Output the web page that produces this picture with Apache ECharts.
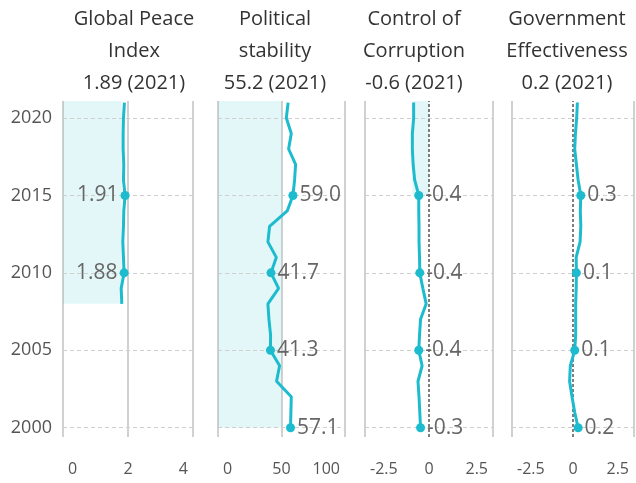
<!DOCTYPE html>
<html><head><meta charset="utf-8">
<script src="https://cdn.jsdelivr.net/npm/echarts@6/dist/echarts.min.js"></script>
<style>html,body{margin:0;padding:0;background:#fff}#c{width:636px;height:483px}</style>
</head><body><div id="c"></div>
<script>
// ---- data ----
const years = [2000,2001,2002,2003,2004,2005,2006,2007,2008,2009,2010,2011,2012,2013,2014,2015,2016,2017,2018,2019,2020,2021];
const gpiYears = [2008,2009,2010,2011,2012,2013,2014,2015,2016,2017,2018,2019,2020,2021];
const gpiValues = [1.81,1.79,1.88,1.86,1.84,1.86,1.87,1.91,1.86,1.87,1.85,1.85,1.86,1.89];
const stabilityValues = [57.1,57.4,57.7,46.1,48.5,41.3,41.4,40.1,39.3,47.7,41.7,45.9,39.3,40.6,54.5,59.0,60.3,61.1,55.6,57.7,53.8,55.2];
const corruptionValues = [-0.33,-0.36,-0.39,-0.43,-0.27,-0.40,-0.37,-0.33,-0.11,-0.24,-0.36,-0.37,-0.39,-0.39,-0.40,-0.40,-0.56,-0.62,-0.65,-0.65,-0.60,-0.60];
const effectivenessValues = [0.21,0.07,-0.04,-0.14,-0.11,0.07,0.11,0.11,0.11,0.13,0.14,0.13,0.29,0.32,0.30,0.32,0.21,0.14,0.07,0.10,0.15,0.18];
const titleNames = ['Global Peace\nIndex','Political\nstability','Control of\nCorruption','Government\nEffectiveness'];
const yearTicks = [2000,2005,2010,2015,2020];
const labelYears = [2000,2005,2010,2015];
const xRanges = [[0,4,2],[0,100,50],[-2.5,2.5,2.5],[-2.5,2.5,2.5]];
const decimals = [2,1,1,1];
// shaded bands: [xFrom, xTo, yearFrom, yearTo]
const bands = [[0,1.80,2008,2021.1],[0,50,2000,2021.1],[-0.65,0,2015,2021.1],null];
const zeroLine = [false,false,true,true];

// ---- layout ----
const grids = [
  {left:63, width:130},
  {left:218, width:127},
  {left:365, width:128},
  {left:512, width:122}
];
const titleX = [134, 275, 414, 567];
const FONT = '"Open Sans", sans-serif';
const LINE = '#1CBCCE';
const Y_MIN = 1999.4, Y_MAX = 2021.1;

const seriesDefs = [
  {years: gpiYears, values: gpiValues, labelPos: 'left'},
  {years: years, values: stabilityValues, labelPos: 'right'},
  {years: years, values: corruptionValues, labelPos: 'right'},
  {years: years, values: effectivenessValues, labelPos: 'right'}
];

const option = {
  animation: false,
  backgroundColor: '#fff',
  grid: grids.map(g => ({left: g.left, width: g.width, top: 101, height: 336})),
  xAxis: grids.map((g, i) => ({
    type: 'value', gridIndex: i,
    min: xRanges[i][0], max: xRanges[i][1], interval: xRanges[i][2],
    axisLine: {show: false}, axisTick: {show: false},
    axisLabel: {
      color: '#555', fontSize: 16, fontFamily: FONT, margin: 24,
      alignMinLabel: 'left', alignMaxLabel: 'right', padding: [0,5,0,5]
    },
    splitLine: {show: true, lineStyle: {
      color: zeroLine[i] ? ['#c2c2c2','rgba(0,0,0,0)'] : '#c2c2c2', width: 1.5}}
  })),
  yAxis: grids.map((g, i) => ({
    type: 'value', gridIndex: i, min: Y_MIN, max: Y_MAX,
    axisLine: {show: false}, axisTick: {show: false},
    splitLine: {show: false},
    axisLabel: {
      show: i === 0, customValues: yearTicks, color: '#555',
      formatter: v => String(Math.round(v)),
      fontSize: 18, fontFamily: FONT, margin: 11
    }
  })),
  graphic: titleNames.map((t, i) => {
    const d = seriesDefs[i];
    const last = d.values[d.values.length - 1];
    const lastYear = d.years[d.years.length - 1];
    return {
      type: 'text', x: titleX[i], y: 3,
      style: {
        text: t + '\n' + last.toFixed(decimals[i] === 2 ? 2 : 1) + ' (' + lastYear + ')',
        align: 'center', verticalAlign: 'top',
        fontSize: 20, lineHeight: 32, fontFamily: FONT, fill: '#333'
      }
    };
  }),
  series: []
};

seriesDefs.forEach((d, i) => {
  const mlData = yearTicks.map(y => ({yAxis: y}));
  if (zeroLine[i]) {
    mlData.push({xAxis: 0, lineStyle: {color: '#555', type: [3,2], width: 1.5}});
  }
  const helper = {
    type: 'line', xAxisIndex: i, yAxisIndex: i, data: [], z: 1, silent: true,
    markLine: {
      silent: true, symbol: 'none', z: 1, animation: false,
      label: {show: false},
      lineStyle: {color: '#cfcfcf', type: [4,3], width: 1.2},
      data: mlData
    }
  };
  if (bands[i]) {
    const b = bands[i];
    helper.markArea = {
      silent: true, z: 0,
      itemStyle: {color: 'rgba(28,188,206,0.12)'},
      data: [[{xAxis: b[0], yAxis: b[2]}, {xAxis: b[1], yAxis: b[3]}]]
    };
  }
  option.series.push(helper);

  option.series.push({
    type: 'line', xAxisIndex: i, yAxisIndex: i, z: 3,
    showAllSymbol: true, symbol: 'circle',
    lineStyle: {color: LINE, width: 3},
    itemStyle: {color: LINE},
    data: d.years.map((y, k) => {
      const marked = labelYears.indexOf(y) >= 0;
      return {
        value: [d.values[k], y],
        symbolSize: marked ? 9 : 0,
        label: {
          show: marked, position: d.labelPos, distance: 2,
          formatter: () => d.values[k].toFixed(decimals[i]),
          color: '#666', fontSize: 21, fontFamily: FONT
        }
      };
    })
  });
});

const chart = echarts.init(document.getElementById('c'), null, {renderer: 'canvas'});
chart.setOption(option);
</script>
</body></html>
